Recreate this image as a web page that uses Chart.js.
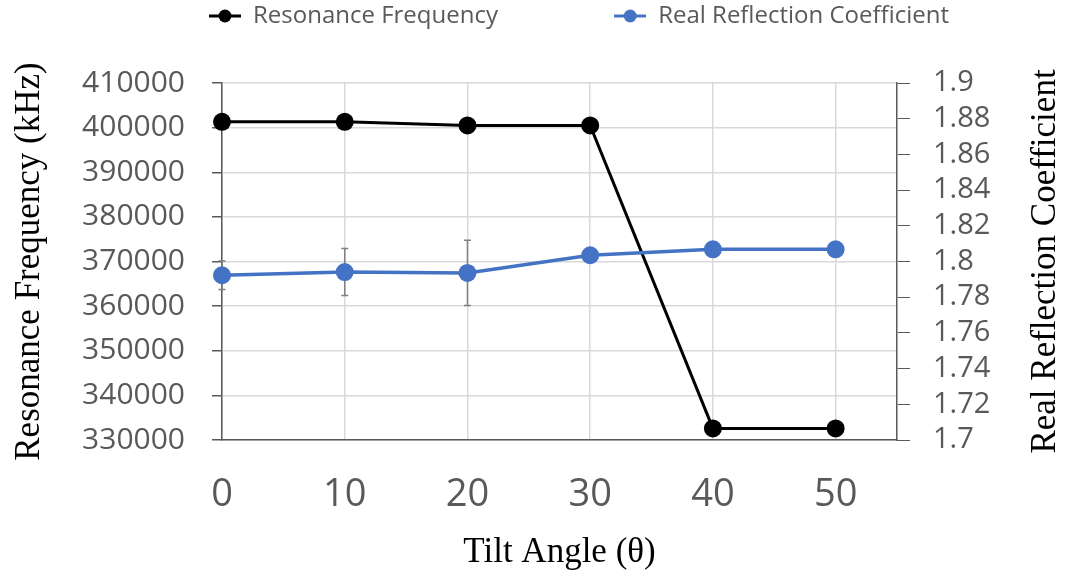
<!DOCTYPE html>
<html lang="en">
<head>
<meta charset="utf-8">
<title>Resonance frequency and reflection coefficient vs tilt angle</title>
<script src="https://cdn.jsdelivr.net/npm/chart.js@4.4.1/dist/chart.umd.min.js"></script>
<style>
  html, body { margin: 0; padding: 0; background: #fff; }
  #wrap { width: 1065px; height: 579px; }
</style>
</head>
<body>
<div id="wrap"><canvas id="chart"></canvas></div>
<script>
// values
const tiltAngles = [0, 10, 20, 30, 40, 50];
const resonanceFreq = [401300, 401300, 400500, 400500, 332600, 332600];
const reflectionCoef = [1.7923, 1.7941, 1.7936, 1.8035, 1.8068, 1.8068];
const reflectionErr = [0.008, 0.0132, 0.0183, 0, 0, 0];

const freqTicks = [330000, 340000, 350000, 360000, 370000, 380000, 390000, 400000, 410000];
const coefTicks = [1.7, 1.72, 1.74, 1.76, 1.78, 1.8, 1.82, 1.84, 1.86, 1.88, 1.9];

const tickGray = '#595959';
const gridGray = '#d9d9d9';

// small line+dot marker for legend, like the office style
function makeMarker(color) {
    const c = document.createElement('canvas');
    c.width = 32;
    c.height = 16;
    const g = c.getContext('2d');
    g.strokeStyle = color;
    g.lineWidth = 3;
    g.beginPath();
    g.moveTo(0, 8);
    g.lineTo(32, 8);
    g.stroke();
    g.fillStyle = color;
    g.beginPath();
    g.arc(16, 8, 6.5, 0, Math.PI * 2);
    g.fill();
    return c;
}
const markers = [makeMarker('#000000'), makeMarker('#4472c4')];

const errorBars = {
    id: 'errorBars',
    beforeDatasetsDraw(chart) {
        const ctx = chart.ctx;
        const meta = chart.getDatasetMeta(1);
        const ys = chart.scales.y1;
        ctx.save();
        ctx.strokeStyle = '#7f7f7f';
        ctx.lineWidth = 1.5;
        meta.data.forEach((pt, i) => {
            const e = reflectionErr[i];
            if (!e) return;
            const top = ys.getPixelForValue(reflectionCoef[i] + e);
            const bot = ys.getPixelForValue(reflectionCoef[i] - e);
            ctx.beginPath();
            ctx.moveTo(pt.x, top);
            ctx.lineTo(pt.x, bot);
            ctx.moveTo(pt.x - 3.5, top);
            ctx.lineTo(pt.x + 3.5, top);
            ctx.moveTo(pt.x - 3.5, bot);
            ctx.lineTo(pt.x + 3.5, bot);
            ctx.stroke();
        });
        ctx.restore();
    }
};

// right title reads bottom-to-top in the original, so draw it here
const rightTitle = {
    id: 'rightTitle',
    afterDraw(chart) {
        const ctx = chart.ctx;
        const area = chart.chartArea;
        ctx.save();
        ctx.translate(1046, (area.top + area.bottom) / 2);
        ctx.rotate(-Math.PI / 2);
        ctx.font = '35px "Liberation Serif"';
        ctx.fillStyle = '#000';
        ctx.textAlign = 'center';
        ctx.textBaseline = 'middle';
        ctx.fillText('Real Reflection Coefficient', 0, 0);
        ctx.restore();
    }
};

// push the legend up to the top edge and centre it over the plot
const legendPlace = {
    id: 'legendPlace',
    afterLayout(chart) {
        const l = chart.legend;
        if (!l) return;
        const h = l.bottom - l.top;
        l.top = 0;
        l.bottom = h;
        l.left = 93;
        l.right = 1065;
    }
};

Chart.defaults.font.family = '"Open Sans", sans-serif';
Chart.defaults.color = tickGray;

const chartConfig = {
    type: 'line',
    data: {
        datasets: [
            {
                label: 'Resonance Frequency',
                data: tiltAngles.map((a, i) => ({ x: a, y: resonanceFreq[i] })),
                yAxisID: 'y',
                borderColor: '#000000',
                backgroundColor: '#000000',
                borderWidth: 3,
                pointRadius: 9,
                pointHoverRadius: 9,
                pointBorderWidth: 0,
                tension: 0,
                clip: false,
                order: 1
            },
            {
                label: 'Real Reflection Coefficient',
                data: tiltAngles.map((a, i) => ({ x: a, y: reflectionCoef[i] })),
                yAxisID: 'y1',
                borderColor: '#4472c4',
                backgroundColor: '#4472c4',
                borderWidth: 3.5,
                pointRadius: 9,
                pointHoverRadius: 9,
                pointBorderWidth: 0,
                tension: 0,
                clip: false,
                order: 0
            }
        ]
    },
    options: {
        responsive: true,
        maintainAspectRatio: false,
        animation: false,
        layout: { padding: 0 },
        plugins: {
            tooltip: { enabled: false },
            legend: {
                position: 'top',
                labels: {
                    color: tickGray,
                    font: { size: 24 },
                    padding: 4,
                    usePointStyle: true,
                    pointStyleWidth: 32,
                    sort: (a, b) => a.datasetIndex - b.datasetIndex,
                    generateLabels(chart) {
                        const items = Chart.defaults.plugins.legend.labels.generateLabels(chart);
                        items.forEach(it => {
                            it.pointStyle = markers[it.datasetIndex];
                            if (it.datasetIndex === 0) it.text = it.text + '                  ';
                        });
                        return items;
                    }
                }
            }
        },
        scales: {
            x: {
                type: 'linear',
                min: 0,
                max: 55,
                afterBuildTicks(scale) {
                    scale.ticks = tiltAngles.map(v => ({ value: v }));
                },
                afterFit(scale) {
                    scale.height = 139;
                },
                grid: { color: gridGray, lineWidth: 1.5, drawTicks: false },
                border: { color: tickGray, width: 1.5 },
                ticks: {
                    font: { size: 38 },
                    padding: 32,
                    maxRotation: 0,
                    autoSkip: false
                },
                title: {
                    display: true,
                    text: 'Tilt Angle (θ)',
                    color: '#000',
                    font: { family: '"Liberation Serif", serif', size: 35 },
                    padding: { top: 0, bottom: 5 }
                }
            },
            y: {
                position: 'left',
                min: 330000,
                max: 410000,
                afterBuildTicks(scale) {
                    scale.ticks = freqTicks.map(v => ({ value: v }));
                },
                afterFit(scale) {
                    scale.width = 222;
                    scale.paddingTop = 83;
                },
                grid: { color: gridGray, lineWidth: 1.5, tickColor: tickGray, tickLength: 10 },
                border: { color: tickGray, width: 1.5 },
                ticks: {
                    font: { size: 30 },
                    padding: 27,
                    autoSkip: false,
                    callback: v => String(v)
                },
                title: {
                    display: true,
                    text: 'Resonance Frequency (kHz)',
                    color: '#000',
                    font: { family: '"Liberation Serif", serif', size: 35 },
                    padding: { top: 9, bottom: 0 }
                }
            },
            y1: {
                position: 'right',
                min: 1.7,
                max: 1.9,
                afterBuildTicks(scale) {
                    scale.ticks = coefTicks.map(v => ({ value: v }));
                },
                afterFit(scale) {
                    scale.width = 168;
                },
                grid: { drawOnChartArea: false, tickColor: tickGray, tickLength: 13 },
                border: { color: tickGray, width: 1.5 },
                ticks: {
                    font: { size: 29 },
                    padding: 23,
                    autoSkip: false,
                    callback: v => String(+v.toFixed(2))
                }
            }
        }
    },
    plugins: [errorBars, rightTitle, legendPlace]
};

new Chart(document.getElementById('chart'), chartConfig);
</script>
</body>
</html>
